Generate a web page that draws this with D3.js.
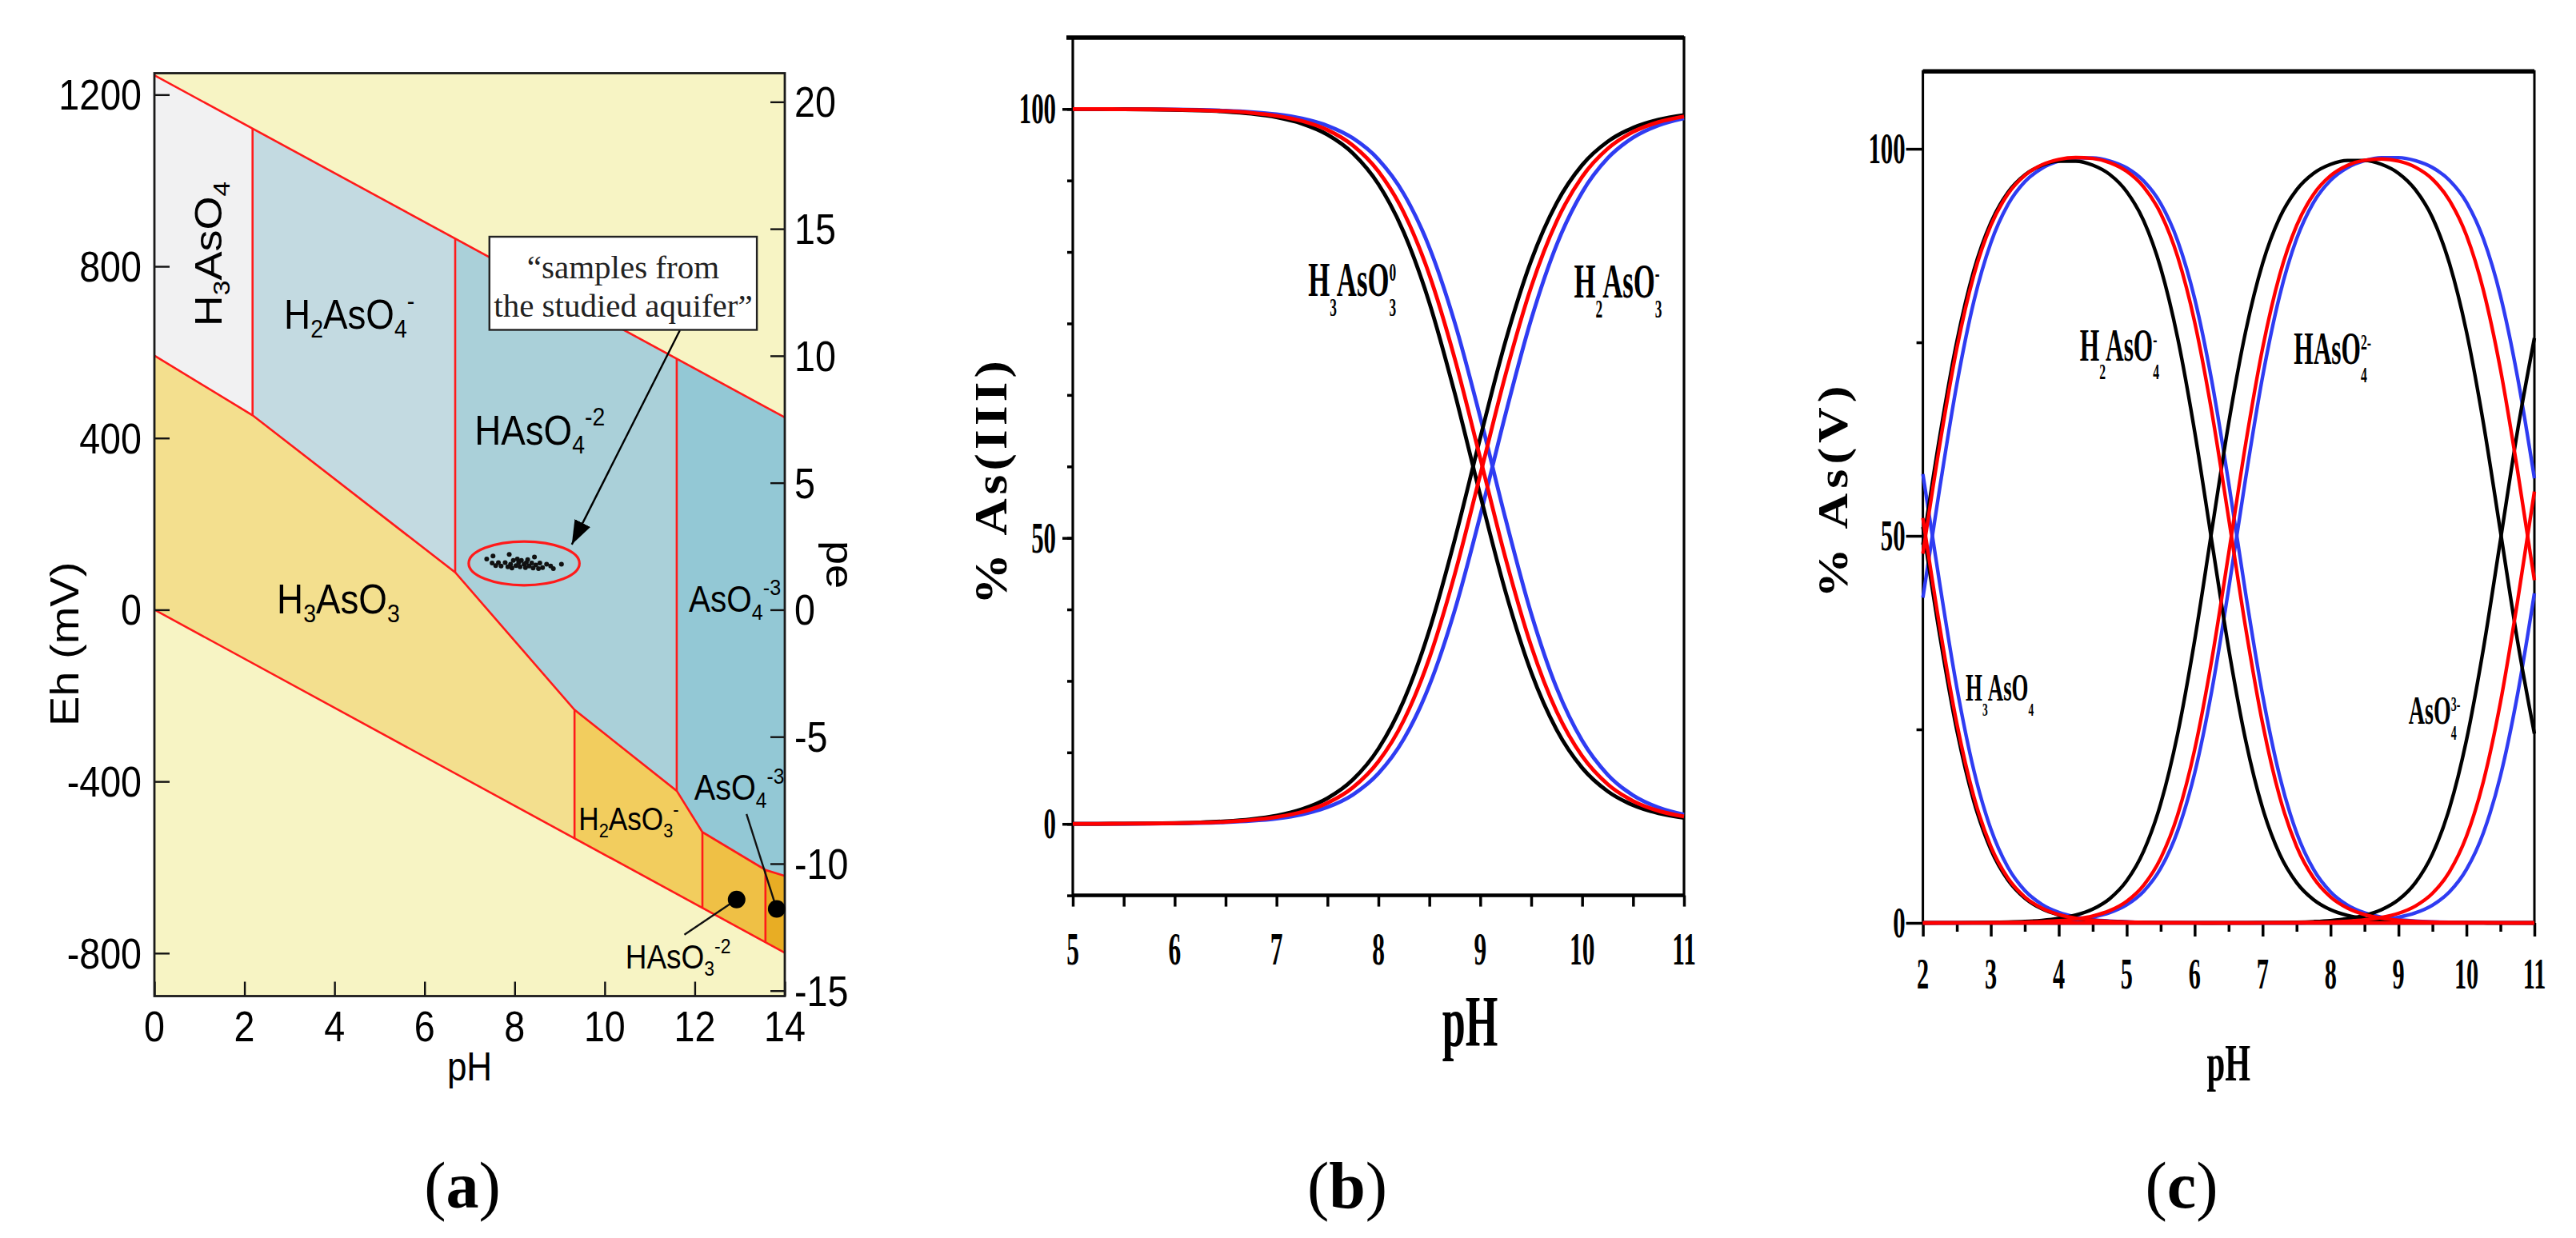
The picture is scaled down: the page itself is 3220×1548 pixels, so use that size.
<!DOCTYPE html>
<html>
<head>
<meta charset="utf-8">
<script src="https://cdn.jsdelivr.net/npm/d3@7"></script>
<style>
  html, body { margin: 0; background: #fff; }
  svg { display: block; }
</style>
</head>
<body>
<svg id="fig" width="3220" height="1548"></svg>
<script>
// ---------------- (a) Eh–pH diagram, vertices as [pH, Eh mV] ----------------
const waterTop = [[0, 1245], [14, 448]];
const waterBottom = [[0, 0], [14, -799]];
const redoxLine = [[0, 592], [2.18, 453], [6.68, 87], [9.33, -233], [11.6, -422], [12.17, -518], [13.57, -606], [14, -620]];
// vertical boundaries: [pH, Eh top, Eh bottom]
const verticals = [[2.18, 1121, 453], [6.68, 865, 87], [11.6, 585, -422], [9.33, -233, -532], [12.17, -518, -694], [13.57, -606, -774]];

const fieldH3AsO4 = [[0, 1245], [2.18, 1121], [2.18, 453], [0, 592]];
const fieldH2AsO4 = [[2.18, 1121], [6.68, 865], [6.68, 87], [2.18, 453]];
const fieldHAsO4 = [[6.68, 865], [11.6, 585], [11.6, -422], [9.33, -233], [6.68, 87]];
const fieldAsO4 = [[11.6, 585], [14, 448], [14, -620], [13.57, -606], [12.17, -518], [11.6, -422]];
const fieldH3AsO3 = [[0, 592], [2.18, 453], [6.68, 87], [9.33, -233], [9.33, -532], [0, 0]];
const fieldH2AsO3 = [[9.33, -233], [11.6, -422], [12.17, -518], [12.17, -694], [9.33, -532]];
const fieldHAsO3 = [[12.17, -518], [13.57, -606], [13.57, -774], [12.17, -694]];
const fieldAsO3 = [[13.57, -606], [14, -620], [14, -799], [13.57, -774]];

const samplesPH = [7.38, 7.52, 7.88, 8.44, 7.50, 7.58, 7.70, 7.79, 7.91, 7.97, 8.03, 8.09, 8.15, 8.21, 8.26, 8.32, 8.38,
  8.47, 8.56, 8.62, 8.71, 8.80, 8.86, 9.04, 7.85, 7.94, 8.12, 8.24, 8.41, 8.53, 8.06, 8.29, 7.64];
const samplesEh = [118, 125, 129, 123, 109, 103, 102, 110, 106, 115, 103, 110, 115, 106, 110, 102, 109,
  104, 109, 98, 106, 102, 96, 106, 100, 97, 100, 98, 97, 96, 118, 117, 110];
const sampleEllipse = [8.21, 108, 1.23, 51];          // centre pH, centre Eh, half-width (pH), half-height (mV)
const calloutBox = [[7.44, 869], [13.38, 652]];       // [pH, Eh] corners
const calloutArrow = [[11.67, 651], [9.27, 152]];
const markerDots = [[12.93, -675], [13.82, -697]];
const leaders = [[[11.77, -757], [12.93, -675]], [[13.15, -476], [13.82, -697]]];

const ehTicks = [-800, -400, 0, 400, 800, 1200];
const peTicks = [-15, -10, -5, 0, 5, 10, 15, 20];
const phTicksA = [0, 2, 4, 6, 8, 10, 12, 14];

// ---------------- (b) As(III) speciation ----------------
const bPH = [5, 5.25, 5.5, 5.75, 6, 6.25, 6.5, 6.75, 7, 7.25, 7.5, 7.75, 8, 8.25, 8.5, 8.75, 9, 9.25, 9.5, 9.75, 10, 10.25, 10.5, 10.75, 11];
const bH3AsO3Black = [99.99, 99.98, 99.96, 99.93, 99.88, 99.79, 99.63, 99.34, 98.84, 97.95, 96.41, 93.80, 89.49, 82.72, 72.91, 60.21, 45.98, 32.37, 21.21, 13.15, 7.84, 4.57, 2.62, 1.49, 0.84];
const bH2AsO3Black = [0.01, 0.02, 0.04, 0.07, 0.12, 0.21, 0.37, 0.66, 1.16, 2.05, 3.59, 6.20, 10.51, 17.28, 27.09, 39.79, 54.02, 67.63, 78.79, 86.85, 92.16, 95.43, 97.38, 98.51, 99.16];
const bH3AsO3Red = [99.99, 99.98, 99.97, 99.95, 99.90, 99.83, 99.70, 99.47, 99.05, 98.33, 97.07, 94.90, 91.28, 85.49, 76.81, 65.06, 51.15, 37.06, 24.88, 15.70, 9.48, 5.56, 3.21, 1.83, 1.04];
const bH2AsO3Red = [0.01, 0.02, 0.03, 0.05, 0.10, 0.17, 0.30, 0.53, 0.95, 1.67, 2.93, 5.10, 8.72, 14.51, 23.19, 34.94, 48.85, 62.94, 75.12, 84.30, 90.52, 94.44, 96.79, 98.17, 98.96];
const bH3AsO3Blue = [99.99, 99.99, 99.98, 99.96, 99.92, 99.87, 99.76, 99.57, 99.25, 98.67, 97.66, 95.91, 92.95, 88.11, 80.65, 70.10, 56.86, 42.57, 29.42, 18.99, 11.65, 6.90, 4.00, 2.29, 1.30];
const bH2AsO3Blue = [0.01, 0.01, 0.02, 0.04, 0.08, 0.13, 0.24, 0.43, 0.75, 1.33, 2.34, 4.09, 7.05, 11.89, 19.35, 29.90, 43.14, 57.43, 70.58, 81.01, 88.35, 93.10, 96.00, 97.71, 98.70];
const bMinorTicks = [-10, 0, 10, 20, 30, 40, 50, 60, 70, 80, 90, 100, 110];
const bYTickVals = [0, 40, 100];
const bYTickText = ['0', '50', '100'];
const bXTicks = [5, 5.5, 6, 6.5, 7, 7.5, 8, 8.5, 9, 9.5, 10, 10.5, 11];
const bXLabels = [5, 6, 7, 8, 9, 10, 11];

// ---------------- (c) As(V) speciation ----------------
const cPH = [2, 2.25, 2.5, 2.75, 3, 3.25, 3.5, 3.75, 4, 4.25, 4.5, 4.75, 5, 5.25, 5.5, 5.75, 6, 6.25, 6.5, 6.75, 7,
  7.25, 7.5, 7.75, 8, 8.25, 8.5, 8.75, 9, 9.25, 9.5, 9.75, 10, 10.25, 10.5, 10.75, 11];
const cH3AsO4Black = [51.15, 37.06, 24.88, 15.70, 9.47, 5.56, 3.20, 1.82, 1.03, 0.58, 0.32, 0.18, 0.10, 0.05, 0.03, 0.01, 0.01,
  0, 0, 0, 0, 0, 0, 0, 0, 0, 0, 0, 0, 0, 0, 0, 0, 0, 0, 0, 0];
const cH2AsO4Black = [48.85, 62.93, 75.12, 84.30, 90.47, 94.35, 96.62, 97.86, 98.40, 98.41, 97.89, 96.69, 94.46, 90.70, 84.60, 75.55, 63.48,
  49.43, 35.46, 23.61, 14.81, 8.90, 5.21, 3.00, 1.70, 0.96, 0.54, 0.30, 0.17, 0.09, 0.05, 0.03, 0.02, 0.01, 0, 0, 0];
const cHAsO4Black = [0, 0.01, 0.01, 0.03, 0.05, 0.10, 0.18, 0.32, 0.57, 1.01, 1.78, 3.13, 5.44, 9.28, 15.40, 24.45, 36.52,
  50.57, 64.54, 76.39, 85.19, 91.08, 94.70, 96.83, 97.99, 98.50, 98.50, 97.99, 96.84, 94.70, 91.10, 85.19, 76.39, 64.54, 50.58, 36.52, 24.45];
const cAsO4Black = [0, 0, 0, 0, 0, 0, 0, 0, 0, 0, 0, 0, 0, 0, 0, 0, 0, 0,
  0.01, 0.01, 0.03, 0.05, 0.09, 0.17, 0.30, 0.54, 0.96, 1.70, 2.99, 5.21, 8.90, 14.81, 23.61, 35.46, 49.42, 63.48, 75.55];
const cH3AsO4Red = [52.30, 38.14, 25.75, 16.32, 9.88, 5.81, 3.35, 1.91, 1.08, 0.61, 0.34, 0.19, 0.11, 0.06, 0.03, 0.02, 0.01,
  0, 0, 0, 0, 0, 0, 0, 0, 0, 0, 0, 0, 0, 0, 0, 0, 0, 0, 0, 0];
const cH2AsO4Red = [47.70, 61.86, 74.25, 83.68, 90.10, 94.14, 96.56, 97.93, 98.63, 98.88, 98.76, 98.22, 97.09, 95.07, 91.64, 86.04, 77.62,
  66.10, 52.30, 38.14, 25.75, 16.32, 9.88, 5.81, 3.35, 1.91, 1.08, 0.61, 0.34, 0.19, 0.11, 0.06, 0.03, 0.02, 0.01, 0, 0];
const cHAsO4Red = [0, 0, 0.01, 0.01, 0.03, 0.05, 0.09, 0.16, 0.28, 0.51, 0.90, 1.59, 2.80, 4.88, 8.36, 13.96, 22.38,
  33.90, 47.70, 61.86, 74.25, 83.68, 90.08, 94.12, 96.53, 97.87, 98.53, 98.69, 98.42, 97.62, 96.07, 93.33, 88.82, 81.71, 71.53, 58.55, 44.27];
const cAsO4Red = [0, 0, 0, 0, 0, 0, 0, 0, 0, 0, 0, 0, 0, 0, 0, 0, 0, 0, 0, 0,
  0.01, 0.02, 0.04, 0.07, 0.12, 0.22, 0.39, 0.70, 1.24, 2.19, 3.82, 6.61, 11.18, 18.29, 28.47, 41.45, 55.73];
const cH3AsO4Blue = [57.99, 43.71, 30.39, 19.71, 12.13, 7.20, 4.18, 2.40, 1.36, 0.77, 0.43, 0.24, 0.13, 0.07, 0.04, 0.02, 0.01,
  0, 0, 0, 0, 0, 0, 0, 0, 0, 0, 0, 0, 0, 0, 0, 0, 0, 0, 0, 0];
const cH2AsO4Blue = [42.01, 56.29, 69.61, 80.29, 87.85, 92.76, 95.74, 97.47, 98.41, 98.81, 98.82, 98.43, 97.53, 95.84, 92.93, 88.11, 80.65,
  70.10, 56.86, 42.57, 29.42, 18.99, 11.65, 6.90, 4.00, 2.29, 1.30, 0.73, 0.41, 0.23, 0.13, 0.07, 0.04, 0.02, 0.01, 0.01, 0];
const cHAsO4Blue = [0, 0, 0, 0.01, 0.02, 0.04, 0.08, 0.13, 0.24, 0.42, 0.75, 1.33, 2.34, 4.09, 7.05, 11.89, 19.35,
  29.90, 43.14, 57.43, 70.58, 81.01, 88.35, 93.08, 95.93, 97.58, 98.47, 98.86, 98.86, 98.47, 97.58, 95.93, 93.10, 88.35, 81.01, 70.58, 57.43];
const cAsO4Blue = [0, 0, 0, 0, 0, 0, 0, 0, 0, 0, 0, 0, 0, 0, 0, 0, 0, 0, 0, 0, 0, 0, 0,
  0.04, 0.07, 0.13, 0.23, 0.41, 0.73, 1.30, 2.29, 4.00, 6.90, 11.65, 18.99, 29.42, 42.57];
const cMajorY = [0, 50, 100];
const cMinorY = [25, 75];
const cXMajor = [2, 3, 4, 5, 6, 7, 8, 9, 10, 11];
const cXMinor = [2.5, 3.5, 4.5, 5.5, 6.5, 7.5, 8.5, 9.5, 10.5];

// ---------------- helpers ----------------
const svg = d3.select('#fig');
const SANS = '"Liberation Sans", Arial, Helvetica, sans-serif';
const SERIF = '"Liberation Serif", "Times New Roman", Times, serif';
const RED = '#ff1a1a', BLUE = '#2f3cf2';

// chemistry-style label: parts = [[text, 'sub'|'sup'|undefined], ...]
function chem(parent, parts, o) {
  const t = parent.append('text')
    .attr('transform', `translate(${o.x},${o.y}) scale(${o.sx || 1},1)${o.rot ? ` rotate(${o.rot})` : ''}`)
    .attr('font-family', o.family || SANS)
    .attr('font-weight', o.weight || 'normal')
    .attr('font-size', o.fs)
    .attr('fill', o.fill || '#000')
    .attr('text-anchor', o.anchor || 'start');
  if (o.ls) t.attr('letter-spacing', o.ls);
  const small = o.fs * (o.subScale || 0.62);
  const drop = (o.drop ?? 0.22) * o.fs, rise = (o.rise ?? 0.45) * o.fs;
  let off = 0, lastSub = null;
  parts.forEach(([s, kind]) => {
    const sp = t.append('tspan').text(s);
    let target = 0;
    if (kind === 'sub') { target = drop; sp.attr('font-size', small); }
    if (kind === 'sup') {
      target = -rise; sp.attr('font-size', small);
      if (o.stack && lastSub) sp.attr('dx', -lastSub.node().getComputedTextLength());
    }
    sp.attr('dy', target - off);
    off = target;
    lastSub = kind === 'sub' ? sp : null;
  });
  return t;
}
const styleAxis = (g, color, width) => {
  g.selectAll('path.domain').remove();
  g.selectAll('line').attr('stroke', color).attr('stroke-width', width);
};

// ================= panel (a) =================
const gA = svg.append('g');
const xA = d3.scaleLinear().domain([0, 14]).range([193, 981]);
const yA = d3.scaleLinear().domain([-900, 1250]).range([1245.5, 91.5]);
const peA = d3.scaleLinear().domain(yA.domain().map(v => v / 59.16)).range(yA.range());
const lineA = d3.line().x(d => xA(d[0])).y(d => yA(d[1]));
const SXA = 0.88;

gA.append('rect')
  .attr('x', xA(0)).attr('y', yA(1250))
  .attr('width', xA(14) - xA(0)).attr('height', yA(-900) - yA(1250))
  .attr('fill', '#f7f4c4');

[[fieldH3AsO4, '#f1f1f2'], [fieldH2AsO4, '#c3dae1'], [fieldHAsO4, '#aad0d9'], [fieldAsO4, '#93c8d5'],
 [fieldH3AsO3, '#f3df8e'], [fieldH2AsO3, '#f2cd5e'], [fieldHAsO3, '#efc045'], [fieldAsO3, '#e8ad24']]
  .forEach(([pts, c]) => gA.append('path').attr('d', lineA(pts) + 'Z').attr('fill', c));

[waterTop, waterBottom, redoxLine].forEach(pts =>
  gA.append('path').attr('d', lineA(pts)).attr('fill', 'none').attr('stroke', RED).attr('stroke-width', 2.6));
verticals.forEach(([ph, top, bot]) =>
  gA.append('line').attr('x1', xA(ph)).attr('x2', xA(ph)).attr('y1', yA(top)).attr('y2', yA(bot))
    .attr('stroke', RED).attr('stroke-width', 2.6));

// sample cloud
const [ecx, ecy, erx, ery] = sampleEllipse;
gA.append('ellipse')
  .attr('cx', xA(ecx)).attr('cy', yA(ecy))
  .attr('rx', xA(ecx + erx) - xA(ecx)).attr('ry', yA(ecy - ery) - yA(ecy))
  .attr('fill', 'none').attr('stroke', RED).attr('stroke-width', 3.2);
gA.append('g').selectAll('circle').data(samplesPH).join('circle')
  .attr('cx', d => xA(d)).attr('cy', (d, i) => yA(samplesEh[i])).attr('r', 3).attr('fill', '#111');

// frame and axes
const axL = gA.append('g').attr('transform', `translate(${xA(0)},0)`)
  .call(d3.axisLeft(yA).tickValues(ehTicks).tickSize(-19).tickSizeOuter(0).tickFormat(''));
const axR = gA.append('g').attr('transform', `translate(${xA(14)},0)`)
  .call(d3.axisRight(peA).tickValues(peTicks).tickSize(-18).tickSizeOuter(0).tickFormat(''));
const axB = gA.append('g').attr('transform', `translate(0,${yA(-900)})`)
  .call(d3.axisBottom(xA).tickValues(phTicksA).tickSize(-18).tickSizeOuter(0).tickFormat(''));
[axL, axR, axB].forEach(g => styleAxis(g, '#111', 2.4));
gA.append('rect')
  .attr('x', xA(0)).attr('y', yA(1250)).attr('width', xA(14) - xA(0)).attr('height', yA(-900) - yA(1250))
  .attr('fill', 'none').attr('stroke', '#1a1a1a').attr('stroke-width', 2.8);

ehTicks.forEach(v => chem(gA, [[String(v)]], { x: xA(0) - 16, y: yA(v) + 19, fs: 53, sx: SXA, anchor: 'end' }));
peTicks.forEach(v => chem(gA, [[String(v)]], { x: xA(14) + 12, y: peA(v) + 19, fs: 53, sx: SXA }));
phTicksA.forEach(v => chem(gA, [[String(v)]], { x: xA(v), y: yA(-900) + 56, fs: 53, sx: SXA, anchor: 'middle' }));
chem(gA, [['pH']], { x: xA(7), y: yA(-900) + 105, fs: 50, sx: SXA, anchor: 'middle' });
chem(gA, [['Eh (mV)']], { x: 98, y: yA(-80), fs: 56, sx: SXA, rot: -90, anchor: 'middle' });
chem(gA, [['pe']], { x: xA(14) + 52, y: yA(105), fs: 54, sx: SXA, rot: 90, anchor: 'middle' });

// field labels
chem(gA, [['H'], ['3', 'sub'], ['AsO'], ['4', 'sub']], { x: xA(1.49), y: yA(660), fs: 54, sx: SXA, rot: -90 });
chem(gA, [['H'], ['2', 'sub'], ['AsO'], ['4', 'sub'], ['-', 'sup']], { x: xA(2.88), y: yA(655), fs: 52, sx: SXA });
chem(gA, [['HAsO'], ['4', 'sub'], ['-2', 'sup']], { x: xA(7.11), y: yA(385), fs: 52, sx: SXA });
chem(gA, [['H'], ['3', 'sub'], ['AsO'], ['3', 'sub']], { x: xA(2.72), y: yA(-8), fs: 52, sx: SXA });
chem(gA, [['AsO'], ['4', 'sub'], ['-3', 'sup']], { x: xA(11.87), y: yA(-4), fs: 46, sx: SXA });
chem(gA, [['H'], ['2', 'sub'], ['AsO'], ['3', 'sub'], ['-', 'sup']], { x: xA(9.42), y: yA(-513), fs: 40, sx: SXA });
chem(gA, [['AsO'], ['4', 'sub'], ['-3', 'sup']], { x: xA(11.99), y: yA(-443), fs: 45, sx: SXA });
chem(gA, [['HAsO'], ['3', 'sub'], ['-2', 'sup']], { x: xA(10.46), y: yA(-836), fs: 42, sx: SXA });

leaders.forEach(seg => gA.append('path').attr('d', lineA(seg)).attr('stroke', '#111').attr('stroke-width', 2.4));
gA.append('g').selectAll('circle').data(markerDots).join('circle')
  .attr('cx', d => xA(d[0])).attr('cy', d => yA(d[1])).attr('r', 11).attr('fill', '#000');

// callout
svg.append('defs').append('marker')
  .attr('id', 'arrowHead').attr('viewBox', '0 0 30 22').attr('refX', 30).attr('refY', 11)
  .attr('markerWidth', 30).attr('markerHeight', 22).attr('markerUnits', 'userSpaceOnUse').attr('orient', 'auto')
  .append('path').attr('d', 'M0,0 L30,11 L0,22 Z').attr('fill', '#000');
gA.append('path').attr('d', lineA(calloutArrow)).attr('stroke', '#000').attr('stroke-width', 2.4)
  .attr('marker-end', 'url(#arrowHead)');
const bx0 = xA(calloutBox[0][0]), by0 = yA(calloutBox[0][1]);
const bx1 = xA(calloutBox[1][0]), by1 = yA(calloutBox[1][1]);
gA.append('rect').attr('x', bx0).attr('y', by0).attr('width', bx1 - bx0).attr('height', by1 - by0)
  .attr('fill', '#fff').attr('stroke', '#222').attr('stroke-width', 2.4);
chem(gA, [['\u201Csamples from']], { x: (bx0 + bx1) / 2, y: by0 + 52, fs: 41, family: SERIF, anchor: 'middle', fill: '#222' });
chem(gA, [['the studied aquifer\u201D']], { x: (bx0 + bx1) / 2, y: by0 + 100, fs: 41, family: SERIF, anchor: 'middle', fill: '#222' });

// ================= panel (b) =================
const gB = svg.append('g');
const xB = d3.scaleLinear().domain([5, 11]).range([1341, 2105]);
const yB = d3.scaleLinear().domain([-10, 110]).range([1119.6, 46.9]);
const SXB = 0.56;

const bAxMinor = gB.append('g').attr('transform', `translate(${xB(5)},0)`)
  .call(d3.axisLeft(yB).tickValues(bMinorTicks).tickSize(7).tickFormat(''));
const bAxMajor = gB.append('g').attr('transform', `translate(${xB(5)},0)`)
  .call(d3.axisLeft(yB).tickValues(bYTickVals).tickSize(13).tickFormat(''));
const bAxX = gB.append('g').attr('transform', `translate(0,${yB(-10)})`)
  .call(d3.axisBottom(xB).tickValues(bXTicks).tickSize(14).tickFormat(''));
[bAxMinor, bAxMajor, bAxX].forEach(g => styleAxis(g, '#000', 3.5));
gB.append('rect').attr('x', xB(5)).attr('y', yB(110)).attr('width', xB(11) - xB(5)).attr('height', yB(-10) - yB(110))
  .attr('fill', 'none').attr('stroke', '#000').attr('stroke-width', 3.2);
gB.append('line').attr('x1', xB(5) - 8).attr('x2', xB(11)).attr('y1', yB(110)).attr('y2', yB(110))
  .attr('stroke', '#000').attr('stroke-width', 5.5);
gB.append('line').attr('x1', xB(5)).attr('x2', xB(11)).attr('y1', yB(-10)).attr('y2', yB(-10))
  .attr('stroke', '#000').attr('stroke-width', 4.5);

const lineB = d3.line().x((d, i) => xB(bPH[i])).y(d => yB(d)).curve(d3.curveMonotoneX);
[[bH3AsO3Blue, BLUE], [bH2AsO3Blue, BLUE], [bH3AsO3Black, '#000'], [bH2AsO3Black, '#000'],
 [bH3AsO3Red, '#ff0000'], [bH2AsO3Red, '#ff0000']]
  .forEach(([vals, c]) => gB.append('path').attr('d', lineB(vals)).attr('fill', 'none')
    .attr('stroke', c).attr('stroke-width', 4.8));

bYTickVals.forEach((v, i) => chem(gB, [[bYTickText[i]]], { x: xB(5) - 21, y: yB(v) + 18, fs: 55, sx: SXB, anchor: 'end', family: SERIF, weight: 'bold' }));
bXLabels.forEach(v => chem(gB, [[String(v)]], { x: xB(v), y: yB(-10) + 86, fs: 56, sx: SXB, anchor: 'middle', family: SERIF, weight: 'bold' }));
chem(gB, [['pH']], { x: xB(8.9), y: yB(-10) + 188, fs: 90, sx: 0.58, anchor: 'middle', family: SERIF, weight: 'bold' });
chem(gB, [['% As(III)']], { x: 1258, y: yB(48), fs: 64, sx: 0.9, rot: -90, anchor: 'middle', family: SERIF, weight: 'bold', ls: 5 });
const bStack = { fs: 62, sx: SXB, family: SERIF, weight: 'bold', stack: true, subScale: 0.5, drop: 0.4, rise: 0.32 };
chem(gB, [['H'], ['3', 'sub'], ['AsO'], ['3', 'sub'], ['0', 'sup']], { ...bStack, x: xB(7.31), y: yB(73.8) });
chem(gB, [['H'], ['2', 'sub'], ['AsO'], ['3', 'sub'], ['-', 'sup']], { ...bStack, x: xB(9.92), y: yB(73.6) });

// ================= panel (c) =================
const gC = svg.append('g');
const xC = d3.scaleLinear().domain([2, 11]).range([2403.6, 3168]);
const yC = d3.scaleLinear().domain([0, 110]).range([1154, 89.3]);

const cAxMaj = gC.append('g').attr('transform', `translate(${xC(2)},0)`)
  .call(d3.axisLeft(yC).tickValues(cMajorY).tickSize(21).tickFormat(''));
const cAxMin = gC.append('g').attr('transform', `translate(${xC(2)},0)`)
  .call(d3.axisLeft(yC).tickValues(cMinorY).tickSize(8).tickFormat(''));
const cAxX = gC.append('g').attr('transform', `translate(0,${yC(0)})`)
  .call(d3.axisBottom(xC).tickValues(cXMajor).tickSize(17).tickFormat(''));
const cAxX2 = gC.append('g').attr('transform', `translate(0,${yC(0)})`)
  .call(d3.axisBottom(xC).tickValues(cXMinor).tickSize(11).tickFormat(''));
[cAxMaj, cAxMin, cAxX, cAxX2].forEach(g => styleAxis(g, '#000', 3.5));
gC.append('rect').attr('x', xC(2)).attr('y', yC(110)).attr('width', xC(11) - xC(2)).attr('height', yC(0) - yC(110))
  .attr('fill', 'none').attr('stroke', '#000').attr('stroke-width', 3);
gC.append('line').attr('x1', xC(2)).attr('x2', xC(11)).attr('y1', yC(110)).attr('y2', yC(110))
  .attr('stroke', '#000').attr('stroke-width', 5.5);

const lineC = d3.line().x((d, i) => xC(cPH[i])).y(d => yC(d)).curve(d3.curveMonotoneX);
[[cH3AsO4Blue, BLUE], [cH2AsO4Blue, BLUE], [cHAsO4Blue, BLUE], [cAsO4Blue, BLUE],
 [cH3AsO4Black, '#000'], [cH2AsO4Black, '#000'], [cHAsO4Black, '#000'], [cAsO4Black, '#000'],
 [cH3AsO4Red, '#ff0000'], [cH2AsO4Red, '#ff0000'], [cHAsO4Red, '#ff0000'], [cAsO4Red, '#ff0000']]
  .forEach(([vals, c]) => gC.append('path').attr('d', lineC(vals)).attr('fill', 'none')
    .attr('stroke', c).attr('stroke-width', 4.4));

cMajorY.forEach(v => chem(gC, [[String(v)]], { x: xC(2) - 22, y: yC(v) + 18, fs: 55, sx: SXB, anchor: 'end', family: SERIF, weight: 'bold' }));
cXMajor.forEach(v => chem(gC, [[String(v)]], { x: xC(v), y: yC(0) + 82, fs: 54, sx: SXB, anchor: 'middle', family: SERIF, weight: 'bold' }));
chem(gC, [['pH']], { x: xC(6.5), y: yC(0) + 197, fs: 66, sx: 0.62, anchor: 'middle', family: SERIF, weight: 'bold' });
chem(gC, [['% As(V)']], { x: 2309, y: yC(56), fs: 62, sx: 0.85, rot: -90, anchor: 'middle', family: SERIF, weight: 'bold', ls: 6 });
const cStack = { sx: SXB, family: SERIF, weight: 'bold', stack: true, subScale: 0.5, drop: 0.4, rise: 0.32 };
chem(gC, [['H'], ['2', 'sub'], ['AsO'], ['4', 'sub'], ['-', 'sup']], { ...cStack, fs: 56, x: xC(4.31), y: yC(72.6) });
chem(gC, [['HAsO'], ['4', 'sub'], ['2-', 'sup']], { ...cStack, fs: 56, x: xC(7.46), y: yC(72.2) });
chem(gC, [['H'], ['3', 'sub'], ['AsO'], ['4', 'sub']], { ...cStack, fs: 48, x: xC(2.63), y: yC(28.7) });
chem(gC, [['AsO'], ['4', 'sub'], ['3-', 'sup']], { ...cStack, fs: 50, x: xC(9.15), y: yC(25.7) });

// ================= captions =================
[['a', 578], ['b', 1684], ['c', 2727]].forEach(([letter, cx]) => {
  const t = svg.append('text').attr('x', cx).attr('y', 1510).attr('text-anchor', 'middle')
    .attr('font-family', SERIF).attr('font-size', 82).attr('fill', '#000');
  t.append('tspan').text('(');
  t.append('tspan').attr('font-weight', 'bold').text(letter);
  t.append('tspan').text(')');
});
</script>
</body>
</html>
